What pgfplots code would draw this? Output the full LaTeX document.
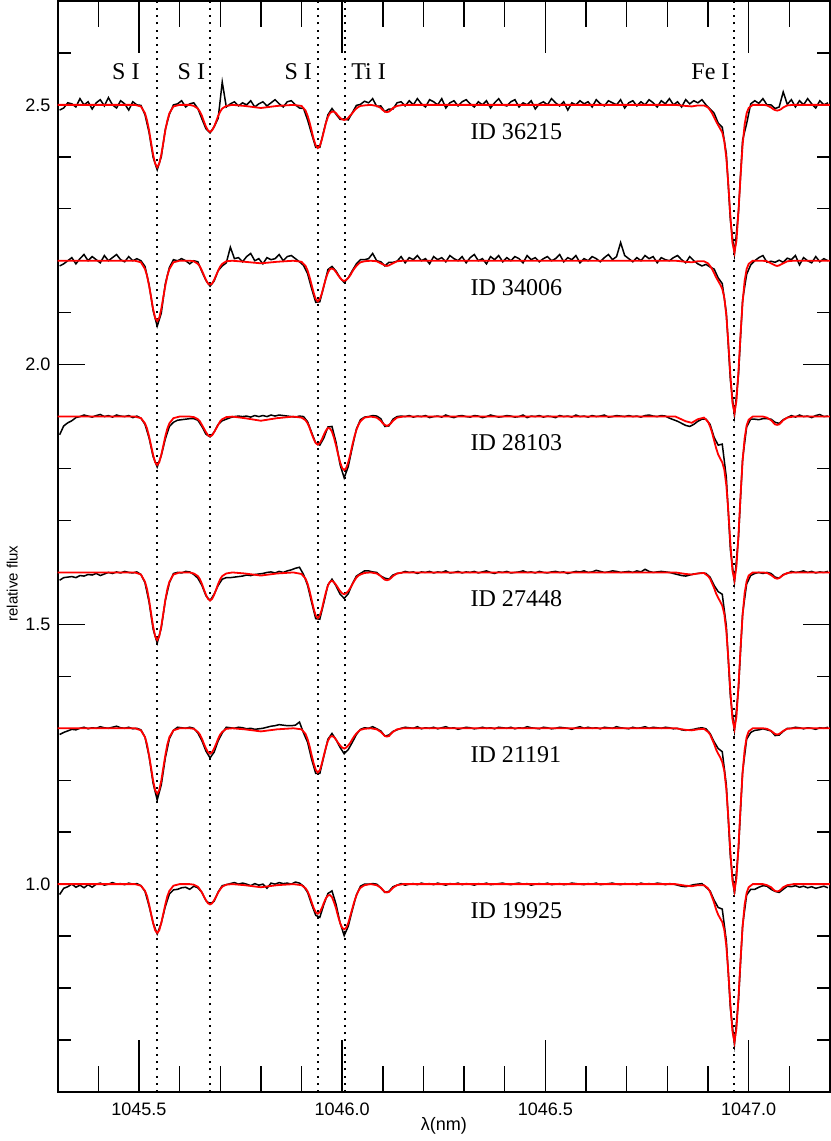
\documentclass[border=0pt]{standalone}
\usepackage{fontspec}
\setmainfont{Liberation Sans}
\newfontfamily\serif{Liberation Serif}
\usepackage{pgfplots}
\usepackage{pgfplotstable}
\pgfplotsset{compat=1.18}

% observed spectra (normalised), one column per star
\pgfplotstableread{
x a b c d e f
1045.305 0.990 0.990 0.965 0.985 0.988 0.980
1045.315 0.994 0.994 0.982 0.990 0.992 0.992
1045.325 1.004 1.000 0.988 0.991 0.995 0.995
1045.335 1.002 1.006 0.992 0.992 0.998 1.000
1045.345 0.996 0.994 0.998 0.990 0.997 0.994
1045.355 1.012 1.004 1.000 0.994 1.000 0.998
1045.365 1.000 1.012 1.003 0.993 1.002 0.993
1045.375 1.006 1.000 1.001 0.996 0.999 0.999
1045.385 0.992 1.008 0.999 0.995 1.001 0.994
1045.395 1.004 1.002 1.002 0.998 1.000 1.000
1045.405 1.010 0.996 1.004 0.994 1.003 1.002
1045.415 0.998 1.010 1.000 0.997 1.001 0.998
1045.425 1.014 1.000 1.002 1.000 1.000 1.000
1045.435 1.000 1.006 0.999 0.998 1.002 1.003
1045.445 0.994 1.012 1.003 1.001 1.004 1.000
1045.455 1.008 1.002 1.001 0.999 1.001 1.001
1045.465 1.002 0.998 1.000 1.002 1.000 0.999
1045.475 0.990 1.008 1.002 1.000 1.002 1.002
1045.485 1.006 1.000 0.998 0.999 0.999 1.000
1045.495 1.000 1.004 1.001 1.001 1.000 1.001
1045.505 0.999 1.000 0.997 0.996 0.997 0.997
1045.515 0.981 0.989 0.985 0.980 0.983 0.986
1045.525 0.947 0.954 0.959 0.943 0.946 0.958
1045.535 0.899 0.904 0.923 0.891 0.894 0.925
1045.545 0.875 0.874 0.903 0.864 0.862 0.904
1045.555 0.900 0.899 0.925 0.893 0.891 0.925
1045.565 0.953 0.956 0.957 0.946 0.943 0.957
1045.575 0.982 0.987 0.981 0.980 0.980 0.981
1045.585 1.000 1.002 0.989 0.998 0.996 0.989
1045.595 1.002 1.000 0.993 1.000 1.002 0.990
1045.605 1.008 1.004 0.994 0.999 1.001 0.993
1045.615 0.996 1.000 0.995 1.002 1.000 0.994
1045.625 1.002 0.994 0.996 1.001 1.002 0.990
1045.635 1.004 1.000 0.996 0.996 1.000 0.996
1045.645 0.993 0.998 0.993 0.989 0.991 0.993
1045.655 0.973 0.979 0.981 0.975 0.976 0.984
1045.665 0.954 0.962 0.966 0.955 0.956 0.968
1045.675 0.946 0.951 0.961 0.946 0.943 0.962
1045.685 0.958 0.961 0.970 0.958 0.954 0.967
1045.695 0.974 0.981 0.985 0.975 0.976 0.985
1045.705 1.044 0.990 0.992 0.987 0.991 0.997
1045.715 0.996 0.996 0.995 0.990 1.002 0.999
1045.725 1.002 1.026 0.998 0.990 1.001 1.001
1045.735 1.006 1.004 1.000 0.991 1.000 1.003
1045.745 0.998 1.006 1.001 0.992 1.002 1.000
1045.755 1.004 0.998 1.000 0.993 1.001 1.002
1045.765 1.000 1.008 1.001 0.995 0.999 1.000
1045.775 1.008 1.014 0.999 0.994 1.000 0.997
1045.785 0.996 1.000 1.002 0.996 0.998 1.001
1045.795 1.002 1.004 1.000 0.997 0.999 0.998
1045.805 1.006 0.994 1.002 0.998 1.000 1.000
1045.815 0.998 1.006 1.000 1.000 1.002 0.992
1045.825 1.004 1.002 1.003 1.001 1.004 1.002
1045.835 1.010 1.004 1.001 0.999 1.005 1.000
1045.845 1.002 1.012 1.003 1.002 1.007 1.003
1045.855 0.996 1.000 1.002 1.000 1.006 1.001
1045.865 1.006 1.008 1.001 1.003 1.005 1.002
1045.875 1.008 1.010 1.000 1.005 1.005 1.000
1045.885 1.000 1.004 0.999 1.008 1.006 1.004
1045.895 0.994 0.998 1.001 1.010 1.012 1.002
1045.905 0.993 0.991 1.000 0.996 0.991 0.996
1045.915 0.971 0.975 0.990 0.975 0.973 0.984
1045.925 0.944 0.946 0.969 0.942 0.940 0.961
1045.935 0.918 0.920 0.949 0.911 0.913 0.940
1045.945 0.918 0.921 0.945 0.910 0.913 0.936
1045.955 0.951 0.951 0.959 0.942 0.946 0.961
1045.965 0.981 0.983 0.980 0.976 0.979 0.982
1045.975 0.993 0.989 0.981 0.987 0.990 0.987
1045.985 0.982 0.980 0.950 0.974 0.978 0.961
1045.995 0.972 0.967 0.907 0.958 0.963 0.925
1046.005 0.973 0.958 0.882 0.950 0.951 0.901
1046.015 0.971 0.967 0.904 0.959 0.959 0.919
1046.025 0.985 0.981 0.941 0.978 0.973 0.950
1046.035 0.999 0.994 0.976 0.993 0.988 0.979
1046.045 1.001 1.002 0.994 0.998 0.998 0.996
1046.055 1.007 1.002 0.999 1.003 1.001 1.000
1046.065 1.004 1.004 1.000 1.003 1.000 1.000
1046.075 1.012 1.014 1.002 1.001 1.003 1.001
1046.085 0.997 1.000 1.001 1.000 0.999 1.000
1046.095 0.998 0.998 0.996 0.993 0.995 0.993
1046.105 0.987 0.990 0.981 0.989 0.985 0.984
1046.115 0.992 0.997 0.982 0.987 0.987 0.986
1046.125 0.992 0.997 0.995 0.995 0.994 0.995
1046.135 1.004 0.999 1.000 0.998 0.997 0.998
1046.145 1.006 1.008 1.001 0.999 1.000 1.001
1046.155 0.998 0.996 1.000 1.002 1.002 0.998
1046.165 1.008 1.006 1.002 1.000 1.001 1.000
1046.175 1.000 1.002 0.999 1.001 1.000 1.001
1046.185 1.012 1.010 1.001 0.998 1.003 0.999
1046.195 1.002 1.000 1.000 1.001 0.999 1.002
1046.205 0.996 1.004 1.002 1.000 1.001 1.000
1046.215 1.010 0.994 0.998 1.002 1.000 1.001
1046.225 1.006 1.008 1.000 0.999 1.002 0.999
1046.235 1.000 1.002 1.001 1.001 0.999 1.002
1046.245 1.012 1.006 0.999 1.000 1.001 1.000
1046.255 0.994 0.998 1.003 1.003 1.003 0.998
1046.265 1.004 1.010 1.000 0.999 1.000 1.001
1046.275 1.008 1.004 0.998 1.000 1.001 1.000
1046.285 0.998 1.000 1.001 1.002 0.998 1.002
1046.295 1.006 1.008 1.002 0.999 1.000 0.999
1046.305 1.010 0.996 1.000 1.001 1.002 1.001
1046.315 1.002 1.006 0.999 1.000 1.001 1.000
1046.325 0.996 1.012 1.002 1.002 0.999 0.998
1046.335 1.006 1.000 1.001 0.999 1.000 1.001
1046.345 1.000 1.004 0.998 1.001 1.002 1.000
1046.355 1.008 0.994 1.000 1.003 1.000 1.002
1046.365 0.994 1.008 1.003 1.000 1.001 0.999
1046.375 1.004 1.002 1.001 0.998 0.999 1.000
1046.385 1.012 1.010 0.999 1.001 1.002 1.001
1046.395 1.000 0.998 1.000 1.000 1.001 1.002
1046.405 0.998 1.006 1.002 1.002 1.000 1.000
1046.415 1.006 1.000 1.001 0.999 1.002 0.999
1046.425 1.010 1.008 0.999 1.000 0.999 1.001
1046.435 0.996 1.004 1.000 1.001 1.001 1.002
1046.445 1.004 0.996 1.003 1.003 1.000 1.000
1046.455 1.000 1.010 0.998 1.000 1.003 1.001
1046.465 1.008 1.002 1.001 1.001 1.001 0.998
1046.475 0.992 1.006 1.000 0.999 1.000 1.000
1046.485 1.002 0.998 1.002 1.002 0.999 1.001
1046.495 1.006 1.004 0.999 1.000 1.002 1.000
1046.505 1.000 1.008 1.001 0.999 1.001 1.002
1046.515 1.012 1.000 1.000 1.001 0.999 0.999
1046.525 1.004 1.004 0.998 1.002 1.000 1.000
1046.535 0.998 1.012 1.002 1.000 1.002 1.001
1046.545 1.006 0.998 1.000 1.001 1.001 0.999
1046.555 0.990 1.006 1.001 0.998 1.000 1.000
1046.565 1.004 1.002 0.999 1.000 0.998 1.002
1046.575 1.000 1.010 1.003 1.002 1.001 1.001
1046.585 1.008 0.996 1.000 1.001 1.003 1.000
1046.595 1.002 1.004 1.001 1.003 1.000 0.999
1046.605 1.006 1.000 0.999 1.000 1.002 1.001
1046.615 0.996 1.008 1.002 1.001 1.000 1.000
1046.625 1.010 1.004 1.000 1.004 1.001 1.002
1046.635 1.002 0.998 1.001 1.002 0.999 0.999
1046.645 0.998 1.006 1.003 1.000 1.002 1.000
1046.655 1.008 1.012 0.999 1.001 1.001 1.001
1046.665 1.004 1.002 1.000 1.003 1.000 1.002
1046.675 1.000 1.008 1.002 1.002 1.003 1.000
1046.685 1.010 1.035 1.001 1.000 1.001 0.999
1046.695 0.994 1.010 1.000 1.001 1.000 1.001
1046.705 1.004 1.004 1.002 1.002 0.999 1.000
1046.715 1.008 0.998 1.000 1.000 1.002 1.001
1046.725 0.998 1.006 1.001 1.003 1.000 0.999
1046.735 1.006 1.000 0.999 1.001 1.001 1.002
1046.745 1.000 1.010 1.002 1.006 1.003 1.000
1046.755 1.010 1.004 1.003 1.002 1.000 1.001
1046.765 1.004 1.008 1.001 1.000 1.002 1.000
1046.775 0.996 0.996 1.000 1.001 1.001 1.002
1046.785 1.008 1.006 1.002 1.002 1.000 1.001
1046.795 1.002 1.002 1.001 1.001 1.002 0.999
1046.805 1.012 1.000 0.997 1.000 1.001 1.001
1046.815 1.000 1.006 0.994 0.998 0.999 1.000
1046.825 1.006 1.010 0.991 0.996 1.000 0.998
1046.835 0.996 1.002 0.987 0.994 0.997 0.996
1046.845 1.010 0.996 0.983 0.993 0.996 0.995
1046.855 1.002 1.008 0.981 0.995 0.997 0.997
1046.865 1.008 1.000 0.985 0.997 0.998 0.999
1046.875 1.004 0.994 0.991 0.998 1.000 1.000
1046.885 1.010 0.990 0.995 0.999 1.001 1.001
1046.895 1.000 0.993 0.995 0.998 0.999 0.994
1046.905 0.992 0.988 0.985 0.991 0.990 0.987
1046.915 0.984 0.984 0.960 0.975 0.974 0.969
1046.925 0.965 0.967 0.945 0.963 0.961 0.955
1046.935 0.957 0.956 0.947 0.958 0.955 0.952
1046.945 0.906 0.900 0.883 0.897 0.891 0.891
1046.955 0.778 0.770 0.744 0.761 0.752 0.761
1046.965 0.713 0.702 0.681 0.696 0.681 0.691
1046.975 0.796 0.781 0.768 0.777 0.768 0.777
1046.985 0.932 0.924 0.918 0.920 0.916 0.920
1046.995 0.964 0.974 0.980 0.978 0.979 0.979
1047.005 1.002 0.992 0.995 0.994 0.992 0.990
1047.015 1.008 1.000 0.995 0.998 0.996 0.990
1047.025 1.003 1.006 0.994 1.000 0.997 0.994
1047.035 1.012 1.010 0.996 0.998 0.999 0.997
1047.045 1.000 0.997 0.996 1.000 0.997 0.996
1047.055 1.000 0.999 0.995 0.998 0.995 0.990
1047.065 0.993 0.997 0.989 0.991 0.986 0.986
1047.075 0.996 1.001 0.987 0.989 0.987 0.984
1047.085 1.025 0.997 0.994 0.996 0.994 0.990
1047.095 1.001 1.005 0.998 0.998 1.000 0.996
1047.105 1.010 1.002 1.002 1.002 1.000 0.995
1047.115 0.996 1.010 0.999 1.000 1.002 0.997
1047.125 1.008 0.992 1.003 1.001 1.001 0.994
1047.135 1.000 1.006 1.000 1.003 0.999 0.996
1047.145 1.012 1.000 1.001 1.000 1.001 0.993
1047.155 1.002 0.996 0.998 1.002 1.000 0.995
1047.165 0.994 1.008 1.002 0.999 0.998 0.992
1047.175 1.008 0.998 1.004 1.001 1.001 0.994
1047.185 1.000 1.004 1.000 1.000 1.000 0.996
1047.195 1.004 1.000 1.001 1.002 1.002 0.993
}\obs

% synthetic (model) spectra
\pgfplotstableread{
x a b c d e f
1045.300 1 1 1 1 1 1
1045.490 1 1 1 1 1 1
1045.505 0.997 0.997 0.997 0.996 0.996 0.997
1045.515 0.984 0.984 0.987 0.982 0.983 0.987
1045.520 0.970 0.971 0.977 0.968 0.969 0.977
1045.525 0.951 0.952 0.962 0.947 0.948 0.961
1045.530 0.927 0.930 0.944 0.921 0.924 0.943
1045.535 0.904 0.907 0.926 0.896 0.899 0.925
1045.540 0.887 0.890 0.912 0.877 0.881 0.911
1045.545 0.880 0.884 0.907 0.870 0.874 0.906
1045.550 0.887 0.890 0.912 0.877 0.881 0.911
1045.555 0.904 0.907 0.926 0.896 0.899 0.925
1045.560 0.927 0.930 0.944 0.921 0.924 0.943
1045.565 0.951 0.952 0.962 0.947 0.948 0.961
1045.570 0.970 0.971 0.977 0.968 0.969 0.977
1045.575 0.984 0.984 0.987 0.982 0.983 0.987
1045.585 0.997 0.997 0.997 0.996 0.996 0.997
1045.600 1 1 1 1 1 1
1045.625 1 1 1 1 1 1
1045.635 0.998 0.999 0.999 0.998 0.999 0.999
1045.645 0.993 0.994 0.995 0.993 0.993 0.995
1045.650 0.987 0.989 0.991 0.987 0.988 0.990
1045.655 0.979 0.981 0.984 0.978 0.980 0.984
1045.660 0.968 0.972 0.977 0.967 0.970 0.976
1045.665 0.958 0.963 0.970 0.957 0.961 0.969
1045.670 0.951 0.956 0.964 0.949 0.954 0.963
1045.675 0.948 0.954 0.962 0.946 0.951 0.961
1045.680 0.951 0.956 0.964 0.949 0.954 0.963
1045.685 0.958 0.963 0.970 0.957 0.961 0.969
1045.690 0.968 0.972 0.977 0.967 0.970 0.976
1045.695 0.979 0.981 0.984 0.978 0.980 0.984
1045.700 0.987 0.989 0.991 0.987 0.988 0.990
1045.705 0.993 0.994 0.995 0.993 0.993 0.995
1045.715 0.998 0.999 0.999 0.998 0.999 0.999
1045.730 1 1 1 1 1 1
1045.760 0.998 0.998 0.997 0.998 0.998 0.998
1045.800 0.994 0.995 0.992 0.994 0.994 0.994
1045.840 0.998 0.998 0.997 0.998 0.998 0.998
1045.880 1 1 1 1 1 1
1045.900 0.998 0.998 0.998 0.997 0.998 0.998
1045.910 0.989 0.990 0.993 0.988 0.989 0.992
1045.915 0.979 0.981 0.987 0.978 0.979 0.986
1045.920 0.966 0.968 0.978 0.964 0.965 0.977
1045.925 0.950 0.953 0.967 0.947 0.948 0.965
1045.930 0.934 0.938 0.957 0.930 0.932 0.954
1045.935 0.922 0.926 0.949 0.917 0.920 0.946
1045.940 0.917 0.922 0.946 0.912 0.915 0.943
1045.945 0.921 0.926 0.949 0.917 0.919 0.946
1045.950 0.933 0.937 0.956 0.929 0.932 0.954
1045.955 0.949 0.952 0.965 0.946 0.948 0.964
1045.960 0.965 0.966 0.973 0.962 0.963 0.973
1045.965 0.977 0.977 0.978 0.975 0.976 0.978
1045.970 0.984 0.984 0.977 0.982 0.983 0.979
1045.975 0.987 0.985 0.971 0.984 0.985 0.975
1045.980 0.987 0.983 0.959 0.981 0.983 0.965
1045.985 0.984 0.978 0.944 0.976 0.978 0.953
1045.990 0.979 0.972 0.927 0.970 0.972 0.938
1045.995 0.975 0.967 0.912 0.964 0.967 0.925
1046.000 0.972 0.963 0.901 0.960 0.963 0.916
1046.005 0.971 0.961 0.897 0.958 0.961 0.913
1046.010 0.972 0.963 0.901 0.960 0.963 0.916
1046.015 0.975 0.967 0.912 0.964 0.967 0.925
1046.020 0.980 0.972 0.927 0.970 0.972 0.939
1046.025 0.984 0.979 0.945 0.977 0.979 0.953
1046.030 0.989 0.985 0.961 0.984 0.985 0.967
1046.035 0.993 0.990 0.974 0.990 0.990 0.978
1046.040 0.996 0.994 0.984 0.994 0.994 0.987
1046.045 0.998 0.997 0.991 0.996 0.997 0.993
1046.055 0.999 0.999 0.998 0.999 0.999 0.998
1046.070 1 1 1 1 1 1
1046.085 0.998 0.999 0.998 0.998 0.998 0.998
1046.095 0.994 0.995 0.992 0.993 0.993 0.993
1046.100 0.990 0.993 0.987 0.989 0.989 0.989
1046.105 0.987 0.991 0.984 0.986 0.985 0.985
1046.110 0.986 0.990 0.982 0.985 0.984 0.984
1046.115 0.987 0.991 0.984 0.986 0.985 0.985
1046.120 0.990 0.993 0.987 0.989 0.989 0.989
1046.125 0.994 0.995 0.992 0.993 0.993 0.993
1046.135 0.998 0.999 0.998 0.998 0.998 0.998
1046.150 1 1 1 1 1 1
1046.820 1 1 1 1 1 1
1046.845 0.998 0.998 0.991 0.997 0.997 0.997
1046.860 0.997 0.997 0.988 0.996 0.996 0.996
1046.875 0.999 0.999 0.995 0.998 0.998 0.998
1046.890 0.999 0.999 0.998 0.999 0.999 0.998
1046.900 0.995 0.995 0.990 0.993 0.993 0.992
1046.905 0.990 0.990 0.981 0.988 0.988 0.985
1046.910 0.984 0.984 0.969 0.979 0.979 0.975
1046.915 0.976 0.976 0.954 0.970 0.970 0.964
1046.920 0.968 0.968 0.939 0.959 0.959 0.951
1046.925 0.961 0.961 0.927 0.951 0.951 0.941
1046.930 0.954 0.954 0.919 0.944 0.944 0.934
1046.935 0.947 0.946 0.912 0.936 0.935 0.927
1046.940 0.930 0.929 0.898 0.920 0.918 0.912
1046.945 0.898 0.895 0.868 0.887 0.883 0.881
1046.950 0.847 0.842 0.818 0.834 0.828 0.830
1046.955 0.786 0.780 0.756 0.771 0.762 0.769
1046.960 0.735 0.727 0.704 0.718 0.707 0.717
1046.965 0.716 0.707 0.685 0.699 0.687 0.696
1046.970 0.739 0.731 0.712 0.723 0.712 0.723
1046.975 0.796 0.789 0.774 0.783 0.774 0.783
1046.980 0.863 0.859 0.849 0.855 0.849 0.855
1046.985 0.922 0.919 0.914 0.917 0.914 0.917
1046.990 0.962 0.961 0.958 0.960 0.958 0.960
1046.995 0.984 0.984 0.983 0.983 0.983 0.983
1047.000 0.994 0.994 0.994 0.994 0.994 0.994
1047.010 1 1 1 1 1 1
1047.035 1 1 1 1 1 1
1047.045 0.999 0.999 0.998 0.999 0.999 0.998
1047.055 0.995 0.995 0.993 0.995 0.995 0.994
1047.060 0.992 0.993 0.989 0.992 0.992 0.990
1047.065 0.990 0.991 0.985 0.989 0.989 0.987
1047.070 0.989 0.990 0.984 0.988 0.988 0.986
1047.075 0.990 0.991 0.985 0.989 0.989 0.987
1047.080 0.992 0.993 0.989 0.992 0.992 0.990
1047.085 0.995 0.995 0.993 0.995 0.995 0.994
1047.095 0.999 0.999 0.998 0.999 0.999 0.998
1047.110 1 1 1 1 1 1
1047.200 1 1 1 1 1 1
}\model

\begin{document}
\begin{tikzpicture}
\begin{axis}[
    scale only axis,
    width=385.5pt, height=544.5pt,
    xmin=1045.3, xmax=1047.2,
    ymin=0.6, ymax=2.7,
    xtick={1045.5,1046,1046.5,1047},
    minor xtick={1045.4,1045.6,1045.7,1045.8,1045.9,1046.1,1046.2,1046.3,1046.4,1046.6,1046.7,1046.8,1046.9,1047.1},
    ytick={1,1.5,2,2.5},
    minor ytick={0.7,0.8,0.9,1.1,1.2,1.3,1.4,1.6,1.7,1.8,1.9,2.1,2.2,2.3,2.4,2.6},
    tick align=inside,
    every tick/.style={black, line width=0.7pt},
    xtick style={/pgfplots/major tick length=26pt, /pgfplots/minor tick length=13pt},
    ytick style={/pgfplots/major tick length=13.5pt, /pgfplots/minor tick length=6.5pt},
    axis line style={line width=1pt},
    /pgf/number format/assume math mode=true,
    xticklabel style={yshift=-2pt, /pgf/number format/.cd, fixed, fixed zerofill, precision=1, 1000 sep={}},
    yticklabel style={/pgf/number format/.cd, fixed, fixed zerofill, precision=1},
    tick label style={font=\fontsize{9}{10}\selectfont},
    xlabel={λ(nm)},
    ylabel={relative flux},
    xlabel style={font=\fontsize{9}{10}\selectfont, yshift=6pt},
    ylabel style={font=\fontsize{7.5}{9}\selectfont, at={(ticklabel cs:0.466)}},
    ylabel shift=-3pt,
]

% line identifications
\addplot[black, line width=1pt, dash pattern=on 1pt off 2.6pt] coordinates {(1045.544,0.6) (1045.544,2.7)};
\addplot[black, line width=1pt, dash pattern=on 1pt off 2.6pt] coordinates {(1045.676,0.6) (1045.676,2.7)};
\addplot[black, line width=1pt, dash pattern=on 1pt off 2.6pt] coordinates {(1045.941,0.6) (1045.941,2.7)};
\addplot[black, line width=1pt, dash pattern=on 1pt off 2.6pt] coordinates {(1046.007,0.6) (1046.007,2.7)};
\addplot[black, line width=1pt, dash pattern=on 1pt off 2.6pt] coordinates {(1046.964,0.6) (1046.964,2.7)};

% observed
\addplot[black, line width=0.75pt] table[x=x, y expr=\thisrow{a}+1.5] {\obs};
\addplot[black, line width=0.75pt] table[x=x, y expr=\thisrow{b}+1.2] {\obs};
\addplot[black, line width=0.75pt] table[x=x, y expr=\thisrow{c}+0.9] {\obs};
\addplot[black, line width=0.75pt] table[x=x, y expr=\thisrow{d}+0.6] {\obs};
\addplot[black, line width=0.75pt] table[x=x, y expr=\thisrow{e}+0.3] {\obs};
\addplot[black, line width=0.75pt] table[x=x, y expr=\thisrow{f}] {\obs};

% models
\addplot[red, line width=0.9pt] table[x=x, y expr=\thisrow{a}+1.5] {\model};
\addplot[red, line width=0.9pt] table[x=x, y expr=\thisrow{b}+1.2] {\model};
\addplot[red, line width=0.9pt] table[x=x, y expr=\thisrow{c}+0.9] {\model};
\addplot[red, line width=0.9pt] table[x=x, y expr=\thisrow{d}+0.6] {\model};
\addplot[red, line width=0.9pt] table[x=x, y expr=\thisrow{e}+0.3] {\model};
\addplot[red, line width=0.9pt] table[x=x, y expr=\thisrow{f}] {\model};

\begin{scope}[every node/.style={font=\serif\fontsize{12}{14}\selectfont, inner sep=0pt}]
\node[anchor=base] at (axis cs:1045.468,2.549) {S I};
\node[anchor=base] at (axis cs:1045.629,2.549) {S I};
\node[anchor=base] at (axis cs:1045.892,2.549) {S I};
\node[anchor=base] at (axis cs:1046.065,2.549) {Ti I};
\node[anchor=base] at (axis cs:1046.906,2.549) {Fe I};
\node[anchor=west] at (axis cs:1046.315,2.449) {ID 36215};
\node[anchor=west] at (axis cs:1046.315,2.149) {ID 34006};
\node[anchor=west] at (axis cs:1046.315,1.849) {ID 28103};
\node[anchor=west] at (axis cs:1046.315,1.549) {ID 27448};
\node[anchor=west] at (axis cs:1046.315,1.249) {ID 21191};
\node[anchor=west] at (axis cs:1046.315,0.949) {ID 19925};
\end{scope}

\end{axis}
\end{tikzpicture}
\end{document}
